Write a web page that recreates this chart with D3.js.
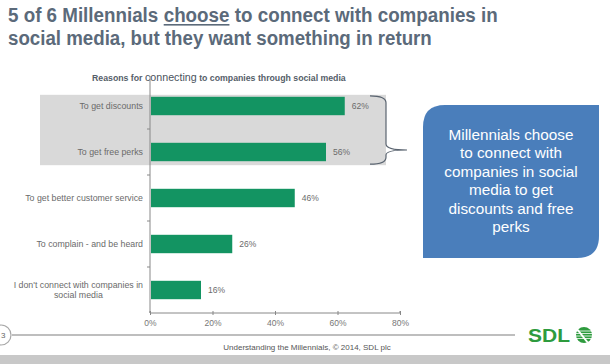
<!DOCTYPE html>
<html><head><meta charset="utf-8">
<script src="https://cdn.jsdelivr.net/npm/d3@7"></script>
<style>
html,body{margin:0;padding:0;background:#fff;}
svg{display:block;font-family:"Liberation Sans",Arial,sans-serif;}
</style></head>
<body>
<svg id="c" width="610" height="364"></svg>
<script>
const categories = ["To get discounts","To get free perks","To get better customer service","To complain - and be heard","I don't connect with companies in\nsocial media"];
const values = [62,56,46,26,16];
const tickValues = [0,20,40,60,80];
const titleLine1 = ["5 of 6 Millennials", "choose", "to connect with companies in"];
const titleLine2 = "social media, but they want something in return";
const chartTitle = ["Reasons for", "connecting", "to companies through social media"];
const calloutLines = ["Millennials choose","to connect with","companies in social","media to get","discounts and free","perks"];
const footer = "Understanding the Millennials, \u00A9 2014, SDL plc";

const svg = d3.select("#c");
const x = d3.scaleLinear().domain([0,80]).range([150,400]);
const y = d3.scaleBand().domain(categories).range([83,313]).paddingInner(0.6).paddingOuter(0.3);
const bw = y.bandwidth(), step = y.step();

function pieceLine(pieces, styles, x0, y0, targetW, base){
  const g = svg.append("g");
  const nodes = pieces.map((p,i)=>g.append("text").attr("font-size",styles[i].size).attr("font-weight",styles[i].weight)
      .attr("fill",styles[i].fill).text(p));
  const space = base*0.28;
  let cx = 0; const pos = [];
  nodes.forEach((t,i)=>{ pos.push(cx); cx += t.node().getComputedTextLength() + (i<nodes.length-1?space:0); });
  const sx = targetW/cx;
  nodes.forEach((t,i)=>t.attr("x",pos[i]).attr("y",0));
  g.attr("transform",`translate(${x0},${y0}) scale(${sx},1)`);
  return {g, nodes, pos};
}

// Title
const titleColor = "#5b6a7a";
const st = {size:21, weight:"bold", fill:titleColor};
const tl = pieceLine(titleLine1,[st,st,st],8,22,490,21);
const chW = tl.nodes[1].node().getComputedTextLength();
tl.g.append("rect").attr("x",tl.pos[1]).attr("y",2).attr("width",chW).attr("height",1.6).attr("fill",titleColor);
pieceLine([titleLine2],[st],8,45,424,21);

// Highlight area
const hTop = y(categories[0]) - 2, hBot = y(categories[1]) + bw + 4;
svg.append("rect").attr("x",40).attr("y",hTop).attr("width",346).attr("height",hBot-hTop).attr("fill","#d9d9d9");
const bx = 386, tipY = 150;
svg.append("path").attr("fill","none").attr("stroke","#5a6470").attr("stroke-width",1.2)
  .attr("d",`M370,${hTop+1} Q${bx},${hTop+1} ${bx},${hTop+8} L${bx},${tipY-6} Q${bx},${tipY} 407,${tipY} Q${bx},${tipY} ${bx},${tipY+5} L${bx},${hBot-8} Q${bx},${hBot-1} 370,${hBot-1}`);

// Chart title
const cs = {size:8.6, weight:"bold", fill:"#555e69"};
pieceLine(chartTitle,[cs,{size:10.5,weight:"normal",fill:"#4a525c"},cs],92,81,254,8.6);

// Bars
svg.selectAll("rect.bar").data(categories).enter().append("rect").attr("class","bar")
  .attr("x",x(0)+1).attr("y",d=>y(d)).attr("height",bw)
  .attr("width",(d,i)=>x(values[i])-x(0)).attr("fill","#139462");

// Value labels
svg.selectAll("text.val").data(categories).enter().append("text").attr("class","val")
  .attr("x",(d,i)=>x(values[i])+8).attr("y",d=>y(d)+bw/2+3).attr("font-size",8.5).attr("fill","#6b6b6b")
  .text((d,i)=>values[i]+"%");

// Category labels (wrapped lines are centred within the right-aligned block)
categories.forEach(c=>{
  const lines = c.split("\n");
  const cy = y(c)+bw/2;
  const t = svg.append("text").attr("font-size",8.8).attr("fill","#6a6a6a");
  const spans = lines.map((l,j)=>t.append("tspan").attr("y",cy+3+(j-(lines.length-1)/2)*10.5).text(l));
  if(lines.length===1){
    t.attr("text-anchor","end"); spans[0].attr("x",143);
  } else {
    const w = d3.max(spans, s=>s.node().getComputedTextLength());
    t.attr("text-anchor","middle"); spans.forEach(s=>s.attr("x",143-w/2));
  }
});

// Y axis line and boundary ticks
svg.append("line").attr("x1",x(0)).attr("x2",x(0)).attr("y1",76).attr("y2",313).attr("stroke","#888").attr("stroke-width",1);
categories.slice(0,-1).forEach(c=>{
  const yy = y(c)+bw+(step-bw)/2;
  svg.append("line").attr("x1",x(0)-3).attr("x2",x(0)).attr("y1",yy).attr("y2",yy).attr("stroke","#888");
});

// X axis
const xa = svg.append("g").attr("transform","translate(0,313)")
  .call(d3.axisBottom(x).tickValues(tickValues).tickSize(3).tickFormat(d=>d+"%"));
xa.select(".domain").attr("stroke","#888").attr("d",`M${x(0)},-2V0H${x(80)}V-2`);
xa.selectAll(".tick line").attr("stroke","#888").attr("y1",-2).attr("y2",2);
xa.selectAll(".tick text").attr("font-family","Liberation Sans, Arial, sans-serif").attr("font-size",8.5).attr("fill","#777").attr("y",7);

// Callout box
const L=423,R=599,T=105,B=258,r=22;
svg.append("path").attr("fill","#4a7ebb")
  .attr("d",`M${L},${T+r} Q${L},${T} ${L+r},${T} L${R},${T} L${R},${B-r} Q${R},${B} ${R-r},${B} L${L},${B} Z`);
svg.selectAll("text.co").data(calloutLines).enter().append("text").attr("class","co")
  .attr("x",511).attr("y",(d,i)=>140+i*18.4).attr("text-anchor","middle").attr("font-size",15.3).attr("fill","#fff").text(d=>d);

// Footer
svg.append("line").attr("x1",12).attr("x2",515).attr("y1",335).attr("y2",335).attr("stroke","#a8a8a8").attr("stroke-width",1.5);
svg.append("circle").attr("cx",1).attr("cy",335).attr("r",10).attr("fill","#fff").attr("stroke","#a8a8a8").attr("stroke-width",1.2);
svg.append("text").attr("x",1).attr("y",338).attr("font-size",8).attr("fill","#666").text("3");
svg.append("text").attr("x",307).attr("y",350).attr("text-anchor","middle").attr("font-size",8).attr("fill","#555").text(footer);
svg.append("rect").attr("x",0).attr("y",355).attr("width",610).attr("height",9).attr("fill","#c8c8c8");

// Logo
svg.append("text").attr("x",528).attr("y",342).attr("font-size",19).attr("font-weight","900").attr("fill","#2e9b3e")
  .attr("textLength",42).attr("lengthAdjust","spacingAndGlyphs").text("SDL");
const g = svg.append("g").attr("transform","translate(584,335)");
g.append("circle").attr("r",8).attr("fill","#2e9b3e");
[-4,-1.5,1,3.5].forEach(o=>g.append("line").attr("x1",-8).attr("x2",8).attr("y1",o).attr("y2",o).attr("stroke","#fff").attr("stroke-width",0.8));
g.append("line").attr("x1",-7).attr("y1",-6).attr("x2",4).attr("y2",8).attr("stroke","#fff").attr("stroke-width",2);
</script>
</body></html>
